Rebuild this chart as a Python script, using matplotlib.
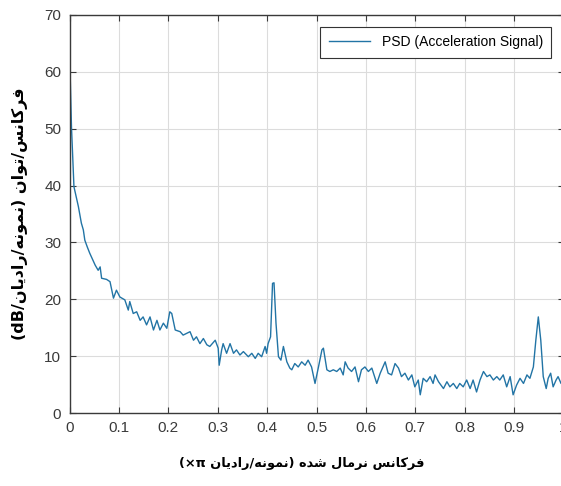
import matplotlib
matplotlib.use("Agg")
import matplotlib.pyplot as plt

# PSD values (normalized frequency, dB)
freq = [0.000, 0.001, 0.004, 0.009, 0.018, 0.024, 0.028, 0.031, 0.036, 0.041,
        0.052, 0.058, 0.062, 0.065, 0.075, 0.082, 0.089, 0.095, 0.102, 0.112,
        0.119, 0.122, 0.129, 0.136, 0.143, 0.149, 0.156, 0.163, 0.170, 0.177,
        0.183, 0.190, 0.197, 0.203, 0.207, 0.214, 0.224, 0.230, 0.237, 0.244,
        0.251, 0.257, 0.264, 0.271, 0.278, 0.284, 0.295, 0.301, 0.303, 0.308,
        0.311, 0.318, 0.325, 0.332, 0.338, 0.345, 0.352, 0.362, 0.369, 0.376,
        0.382, 0.389, 0.396, 0.399, 0.402, 0.407, 0.411, 0.414, 0.418, 0.423,
        0.428, 0.433, 0.440, 0.446, 0.450, 0.456, 0.463, 0.470, 0.477, 0.483,
        0.490, 0.497, 0.504, 0.511, 0.514, 0.521, 0.527, 0.534, 0.541, 0.548,
        0.554, 0.558, 0.564, 0.571, 0.578, 0.585, 0.591, 0.598, 0.605, 0.612,
        0.622, 0.629, 0.639, 0.645, 0.652, 0.659, 0.666, 0.672, 0.679, 0.686,
        0.693, 0.699, 0.706, 0.710, 0.716, 0.723, 0.730, 0.736, 0.740, 0.747,
        0.757, 0.764, 0.770, 0.777, 0.784, 0.790, 0.797, 0.804, 0.811, 0.817,
        0.824, 0.831, 0.838, 0.845, 0.851, 0.858, 0.865, 0.871, 0.878, 0.885,
        0.892, 0.898, 0.905, 0.912, 0.919, 0.926, 0.932, 0.939, 0.944, 0.949,
        0.954, 0.959, 0.965, 0.969, 0.974, 0.979, 0.985, 0.989, 0.995, 1.000]
psd_db = [63.4, 60.7, 50.3, 39.8, 36.3, 33.4, 32.2, 30.4, 29.2, 28.1,
          26.0, 25.1, 25.7, 23.7, 23.5, 23.1, 20.2, 21.6, 20.4, 19.9,
          18.1, 19.6, 17.5, 17.8, 16.3, 16.9, 15.5, 16.9, 14.6, 16.3,
          14.6, 15.8, 14.9, 17.8, 17.5, 14.6, 14.3, 13.7, 14.0, 14.3,
          12.8, 13.4, 12.2, 13.1, 12.0, 11.7, 12.8, 11.4, 8.4, 11.1,
          12.2, 10.5, 12.2, 10.5, 11.1, 10.2, 10.8, 9.9, 10.5, 9.6,
          10.5, 9.9, 11.7, 10.5, 12.2, 13.4, 22.8, 22.9, 15.8, 9.9,
          9.3, 11.7, 9.0, 7.9, 7.6, 8.7, 8.1, 9.0, 8.4, 9.3,
          8.1, 5.2, 8.1, 11.1, 11.4, 7.6, 7.3, 7.6, 7.3, 7.9,
          6.7, 9.0, 7.9, 7.3, 8.1, 5.5, 7.6, 8.1, 7.3, 7.9,
          5.2, 7.0, 9.0, 7.0, 6.7, 8.7, 7.9, 6.4, 7.0, 5.8,
          6.7, 4.6, 5.8, 3.2, 6.1, 5.5, 6.4, 5.2, 6.7, 5.5,
          4.3, 5.5, 4.6, 5.2, 4.3, 5.2, 4.6, 5.8, 4.3, 5.8,
          3.7, 5.8, 7.3, 6.4, 6.7, 5.8, 6.4, 5.8, 6.7, 4.6,
          6.4, 3.2, 4.9, 6.1, 5.2, 6.7, 6.1, 8.1, 12.8, 16.9,
          12.8, 6.4, 4.3, 6.1, 7.0, 4.6, 5.8, 6.4, 5.2, 5.5]

x_ticks = [0, 0.1, 0.2, 0.3, 0.4, 0.5, 0.6, 0.7, 0.8, 0.9, 1]
x_tick_labels = ["0", "0.1", "0.2", "0.3", "0.4", "0.5", "0.6", "0.7", "0.8", "0.9", "1"]
y_ticks = [0, 10, 20, 30, 40, 50, 60, 70]

# Arabic-script shaping by hand (matplotlib has no shaping / bidi)
FORMS = {  # isolated, final, initial, medial
    "ا": ("\ufe8d", "\ufe8e", None, None),
    "ت": ("\ufe95", "\ufe96", "\ufe97", "\ufe98"),
    "د": ("\ufea9", "\ufeaa", None, None),
    "ر": ("\ufead", "\ufeae", None, None),
    "س": ("\ufeb1", "\ufeb2", "\ufeb3", "\ufeb4"),
    "ش": ("\ufeb5", "\ufeb6", "\ufeb7", "\ufeb8"),
    "ف": ("\ufed1", "\ufed2", "\ufed3", "\ufed4"),
    "ل": ("\ufedd", "\ufede", "\ufedf", "\ufee0"),
    "م": ("\ufee1", "\ufee2", "\ufee3", "\ufee4"),
    "ن": ("\ufee5", "\ufee6", "\ufee7", "\ufee8"),
    "ه": ("\ufee9", "\ufeea", "\ufeeb", "\ufeec"),
    "و": ("\ufeed", "\ufeee", None, None),
    "ک": ("\ufb8e", "\ufb8f", "\ufb90", "\ufb91"),
    "ی": ("\ufbfc", "\ufbfd", "\ufbfe", "\ufbff"),
}


def fa(word):
    """Shape a Persian word and return it in visual (left-to-right) order."""
    out = []
    for i, c in enumerate(word):
        iso, fin, ini, med = FORMS[c]
        prev_join = i > 0 and FORMS[word[i - 1]][2] is not None
        next_join = i < len(word) - 1 and ini is not None
        if prev_join and next_join:
            g = med
        elif prev_join:
            g = fin
        elif next_join:
            g = ini
        else:
            g = iso
        out.append(g)
    return "".join(reversed(out))


xlabel = ("(×π " + fa("رادیان") + "/" + fa("نمونه") + ") " + fa("شده") + " "
          + fa("نرمال") + " " + fa("فرکانس"))
ylabel = ("(dB/" + fa("رادیان") + "/" + fa("نمونه") + ") " + fa("توان") + "/"
          + fa("فرکانس"))

plt.rcParams["font.family"] = ["Liberation Sans", "DejaVu Sans"]

fig = plt.figure(figsize=(5.61, 4.86), dpi=100)
ax = fig.add_axes([69.5 / 561, 73 / 486, 494 / 561, 398 / 486])

ax.plot(freq, psd_db, color="#2274a5", linewidth=1.0,
        label="PSD (Acceleration Signal)")

ax.set_xlim(0, 1)
ax.set_ylim(0, 70)
ax.set_xticks(x_ticks)
ax.set_xticklabels(x_tick_labels)
ax.set_yticks(y_ticks)
ax.tick_params(direction="in", top=True, right=True, length=4, width=0.8,
               labelsize=11, labelcolor="#3a3a3a", color="#3a3a3a", pad=6)
ax.grid(color="#dcdcdc", linewidth=0.8)
for s in ax.spines.values():
    s.set_color("#3a3a3a")
    s.set_linewidth(1.0)

ax.set_xlabel(xlabel, family="DejaVu Sans", fontweight="bold", fontsize=9.3)
ax.xaxis.set_label_coords(0.47, -0.11)
ax.set_ylabel(ylabel, family="DejaVu Sans", fontweight="bold", fontsize=11.5)
ax.yaxis.set_label_coords(-0.084, 0.5)

leg = ax.legend(loc="upper right", bbox_to_anchor=(0.975, 0.97), fontsize=10,
                fancybox=False, framealpha=1, borderpad=0.6, borderaxespad=0,
                handlelength=3)
leg.get_frame().set_edgecolor("#333333")
leg.get_frame().set_linewidth(0.8)

fig.savefig("out.png", dpi=100, facecolor="white")
